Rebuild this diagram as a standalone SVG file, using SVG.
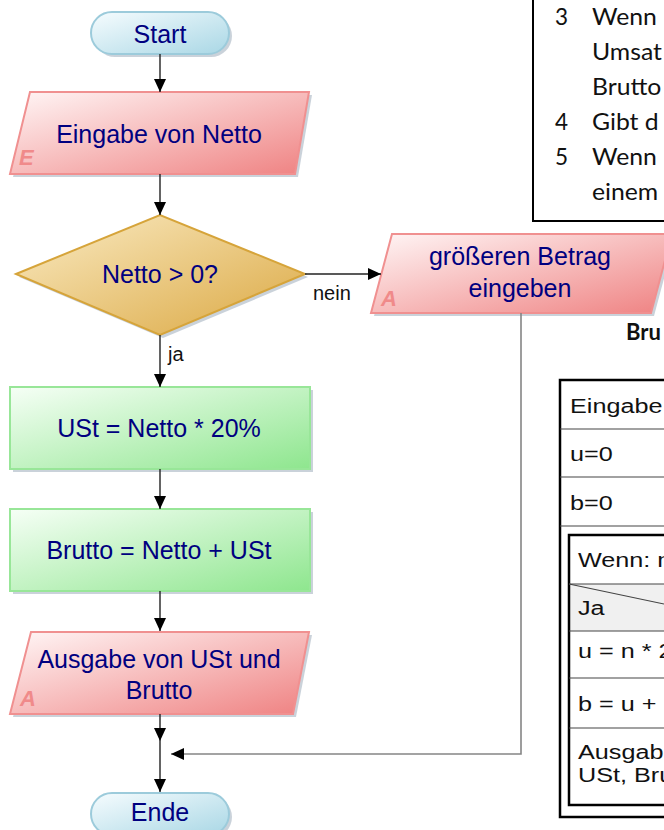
<svg xmlns="http://www.w3.org/2000/svg" width="664" height="830" viewBox="0 0 664 830">
<defs>
  <linearGradient id="gTerm" x1="0" y1="0" x2="1" y2="1"><stop offset="0" stop-color="#f6fcfe"/><stop offset="1" stop-color="#a9d7e5"/></linearGradient>
  <linearGradient id="gPink" x1="0" y1="0" x2="1" y2="1"><stop offset="0" stop-color="#fff6f6"/><stop offset="1" stop-color="#ef8282"/></linearGradient>
  <linearGradient id="gGreen" x1="0" y1="0" x2="1" y2="1"><stop offset="0" stop-color="#f6fff6"/><stop offset="1" stop-color="#8ee68e"/></linearGradient>
  <linearGradient id="gGold" x1="0" y1="0" x2="1" y2="1"><stop offset="0" stop-color="#faebc4"/><stop offset="1" stop-color="#dba842"/></linearGradient>
  <marker id="arr" viewBox="0 0 13 12" refX="13" refY="6" markerWidth="13" markerHeight="12" markerUnits="userSpaceOnUse" orient="auto">
    <path d="M0,0 L13,6 L0,12 z" fill="#000"/>
  </marker>
</defs>
<style>
  .lbl{font-family:"Liberation Sans",Arial,sans-serif;font-size:25px;fill:#000080;text-anchor:middle}
  .tag{font-family:"Liberation Sans",Arial,sans-serif;font-size:22px;font-weight:bold;font-style:italic;fill:#f08a8a}
  .elbl{font-family:"Liberation Sans",Arial,sans-serif;font-size:20px;fill:#111}
  .edge{fill:none;stroke:#222;stroke-width:1.4}
  .edge2{fill:none;stroke:#858585;stroke-width:1.6}
  .shadow{fill:#95a5b6;opacity:.5}
  .term{fill:url(#gTerm);stroke:#9ccbdb;stroke-width:2}
  .io{fill:url(#gPink);stroke:#f09090;stroke-width:2}
  .proc{fill:url(#gGreen);stroke:#98e698;stroke-width:2}
  .dec{fill:url(#gGold);stroke:#d6a43a;stroke-width:2}
  .doc{font-family:Lato,"Open Sans",sans-serif;font-size:22.5px;fill:#111}
  .docb{font-family:Lato,"Open Sans",sans-serif;font-size:22px;font-weight:bold;fill:#111}
  .ns{font-family:"Liberation Sans",Arial,sans-serif;font-size:21px;fill:#111}
  .frame{fill:none;stroke:#000;stroke-width:2.5}
  .sep{fill:none;stroke:#444;stroke-width:1.2}
</style>
<rect width="664" height="830" fill="#fff"/>

<g id="start">
  <rect class="shadow" x="94" y="15" width="138" height="42" rx="21"/>
  <rect class="term" x="91" y="12" width="138" height="42" rx="21"/>
  <text class="lbl" x="160" y="43">Start</text>
</g>
<g id="eingabe">
  <polygon class="shadow" points="33,95 312,95 298,177 13,177"/>
  <polygon class="io" points="30,92 309,92 295,174 10,174"/>
  <text class="lbl" x="159" y="143">Eingabe von Netto</text>
  <text class="tag" x="19" y="165">E</text>
</g>
<g id="check">
  <polygon class="shadow" points="19,277 163,218 308,277 163,338"/>
  <polygon class="dec" points="16,274 160,215 305,274 160,335"/>
  <text class="lbl" x="160" y="283">Netto &gt; 0?</text>
</g>
<g id="betrag">
  <polygon class="shadow" points="395,237 675,237 654,316 374,316"/>
  <polygon class="io" points="392,234 672,234 651,313 371,313"/>
  <text class="lbl" x="520" y="265">größeren Betrag</text>
  <text class="lbl" x="520" y="297">eingeben</text>
  <text class="tag" x="381" y="306">A</text>
</g>
<g id="ust">
  <rect class="shadow" x="13" y="390" width="300" height="82"/>
  <rect class="proc" x="10" y="387" width="300" height="82"/>
  <text class="lbl" x="159" y="437">USt = Netto * 20%</text>
</g>
<g id="brutto">
  <rect class="shadow" x="13" y="512" width="300" height="82"/>
  <rect class="proc" x="10" y="509" width="300" height="82"/>
  <text class="lbl" x="159" y="559">Brutto = Netto + USt</text>
</g>
<g id="ausgabe">
  <polygon class="shadow" points="34,635 312,635 296,717 13,717"/>
  <polygon class="io" points="31,632 309,632 293,714 10,714"/>
  <text class="lbl" x="159" y="668">Ausgabe von USt und</text>
  <text class="lbl" x="159" y="699">Brutto</text>
  <text class="tag" x="20" y="706">A</text>
</g>
<g id="ende">
  <rect class="shadow" x="94" y="796" width="138" height="42" rx="21"/>
  <rect class="term" x="91" y="793" width="138" height="42" rx="21"/>
  <text class="lbl" x="160" y="821">Ende</text>
</g>

<g id="connectors">
  <path class="edge" d="M160,54 V92" marker-end="url(#arr)"/>
  <path class="edge" d="M160,174 V215" marker-end="url(#arr)"/>
  <path class="edge" d="M160,335 V387" marker-end="url(#arr)"/>
  <path class="edge" d="M160,469 V509" marker-end="url(#arr)"/>
  <path class="edge" d="M160,591 V631" marker-end="url(#arr)"/>
  <path class="edge" d="M160,714 V741" marker-end="url(#arr)"/>
  <path class="edge" d="M160,741 V792" marker-end="url(#arr)"/>
  <path class="edge" d="M305,274 H381" marker-end="url(#arr)"/>
  <path class="edge2" d="M521,313 V754 H171" marker-end="url(#arr)"/>
  <text class="elbl" x="313" y="300">nein</text>
  <text class="elbl" x="168" y="361">ja</text>
</g>

<g id="beschreibung">
  <rect x="533" y="-5" width="200" height="226" fill="#fff" stroke="#000" stroke-width="2"/>
  <g class="doc">
    <text x="555" y="25">3</text>
    <text x="555" y="130">4</text>
    <text x="555" y="165">5</text>
  </g>
  <g class="doc" transform="translate(592,0) scale(1.1,1)">
    <text x="0" y="25">Wenn</text>
    <text x="0" y="60">Umsat</text>
    <text x="0" y="95">Brutto</text>
    <text x="0" y="130">Gibt d</text>
    <text x="0" y="165">Wenn</text>
    <text x="0" y="200">einem</text>
  </g>
  <text class="docb" x="626" y="340">Bru</text>
</g>

<g id="struktogramm">
  <rect x="569" y="584" width="120" height="47" fill="#f0f0f0"/>
  <rect class="frame" x="560" y="380" width="200" height="437"/>
  <rect class="frame" x="569" y="535" width="200" height="270"/>
  <path class="sep" d="M560,429 H664 M560,477 H664 M560,526 H664 M569,584 H664 M569,631 H664 M569,678 H664 M569,728 H664"/>
  <path class="sep" d="M569,584 L664,604"/>
  <g class="ns" transform="translate(570,0) scale(1.2,1)">
    <text x="0" y="413">Eingabe</text>
    <text x="0" y="461">u=0</text>
    <text x="0" y="510">b=0</text>
  </g>
  <g class="ns" transform="translate(578,0) scale(1.2,1)">
    <text x="0" y="567">Wenn: n</text>
    <text x="0" y="615">Ja</text>
    <text x="0" y="658">u = n * 2</text>
    <text x="0" y="711">b = u +</text>
    <text x="0" y="759">Ausgabe</text>
    <text x="0" y="782">USt, Bru</text>
  </g>
</g>
</svg>
